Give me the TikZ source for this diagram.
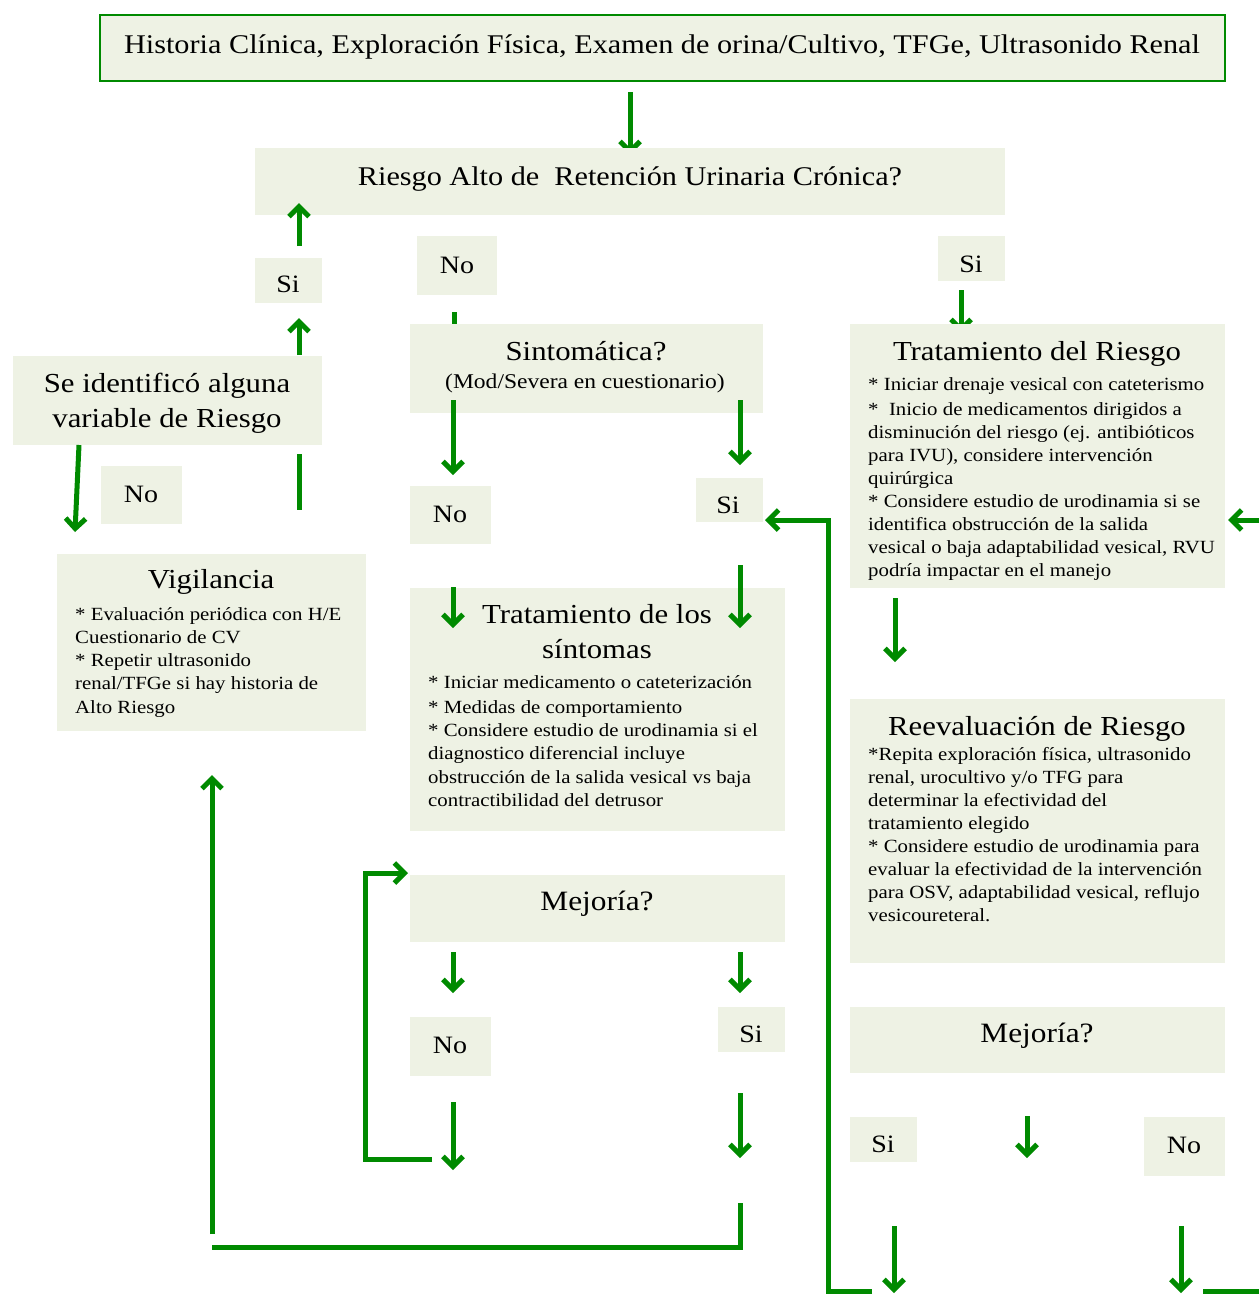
\documentclass[tikz,border=0pt]{standalone}
\usepackage{fontspec}
\setmainfont[FakeStretch=1.12]{Liberation Serif}
\usetikzlibrary{arrows.meta}
\definecolor{boxfill}{RGB}{238,242,228}
\definecolor{arrgreen}{RGB}{0,138,0}
\begin{document}
\begin{tikzpicture}[x=1pt,y=-1pt,
  box/.style={fill=boxfill, draw=none, inner sep=0pt, outer sep=0pt, anchor=north west},
  ttl/.style={anchor=base, inner sep=0pt, font=\fontsize{27.5}{32}\selectfont},
  lbl/.style={anchor=base, inner sep=0pt, font=\fontsize{25}{30}\selectfont},
  sub/.style={anchor=base, inner sep=0pt, font=\fontsize{21}{25}\selectfont},
  body/.style={anchor=base west, inner sep=0pt, font=\fontsize{18.6}{23}\selectfont},
  arr/.style={draw=arrgreen, line width=5pt, -{Straight Barb[length=10pt,width=20pt]}},
  ln/.style={draw=arrgreen, line width=5pt},
]
\useasboundingbox (0,0) rectangle (1259,1294);

% ---------- top ----------
\node[box, draw=arrgreen, line width=2pt, minimum width=1125pt, minimum height=66pt] (top) at (100,15) {};
\node[ttl, font=\fontsize{27}{32}\selectfont] (toptxt) at (662,53) {Historia Clínica, Exploración Física, Examen de orina/Cultivo, TFGe, Ultrasonido Renal};
\coordinate (a1s) at (630,92); \coordinate (a1e) at (630,155);
\draw[arr] (a1s) -- (a1e);

\node[box, minimum width=750pt, minimum height=67pt] (riesgo) at (255,148) {};
\node[ttl, font=\fontsize{27}{32}\selectfont] (riesgotxt) at (630,185) {Riesgo Alto de\ \ Retención Urinaria Crónica?};

\node[box, minimum width=67pt, minimum height=45pt] (siL) at (255,258) {};
\node[lbl] (siLtxt) at (288,292) {Si};
\node[box, minimum width=80pt, minimum height=59pt] (noM) at (417,236) {};
\node[lbl] (noMtxt) at (457,273) {No};
\node[box, minimum width=67pt, minimum height=45pt] (siR) at (938,236) {};
\node[lbl] (siRtxt) at (971,272) {Si};

\coordinate (a2s) at (299,246); \coordinate (a2e) at (299,203);
\draw[arr] (a2s) -- (a2e);
\coordinate (a3s) at (961,290); \coordinate (a3e) at (961,333);
\draw[arr] (a3s) -- (a3e);
\coordinate (a4s) at (299,355); \coordinate (a4e) at (299,318);
\draw[arr] (a4s) -- (a4e);

% ---------- left column ----------
\node[box, minimum width=309pt, minimum height=89pt] (ident) at (13,356) {};
\node[ttl] (identtxt1) at (167,392) {Se identificó alguna};
\node[ttl] (identtxt2) at (167,427) {variable de Riesgo};
\coordinate (a5s) at (79,445); \coordinate (a5e) at (75,532);
\draw[arr] (a5s) -- (a5e);
\node[box, minimum width=81pt, minimum height=58pt] (noL) at (101,466) {};
\node[lbl] (noLtxt) at (141,502) {No};
\coordinate (l1s) at (299,454); \coordinate (l1e) at (299,510);
\draw[ln] (l1s) -- (l1e);

\node[box, minimum width=309pt, minimum height=177pt] (vig) at (57,554) {};
\node[ttl] (vigtxt) at (211,588) {Vigilancia};
\foreach \t [count=\i] in {{* Evaluación periódica con H/E},{Cuestionario de CV},{* Repetir ultrasonido},{renal/TFGe si hay historia de},{Alto Riesgo}}
  \node[body] (vigb\i) at (75,{620+23.3*(\i-1)}) {\t};

% ---------- middle column ----------
\coordinate (l2s) at (454,312); \coordinate (l2e) at (454,355);
\draw[ln] (l2s) -- (l2e);
\node[box, minimum width=353pt, minimum height=89pt] (sint) at (410,324) {};
\node[ttl] (sinttxt) at (586,360) {Sintomática?};
\node[sub] (sintsub) at (585,388) {(Mod/Severa en cuestionario)};
\coordinate (a6s) at (453,400); \coordinate (a6e) at (453,475);
\draw[arr] (a6s) -- (a6e);
\coordinate (a7s) at (740,400); \coordinate (a7e) at (740,465);
\draw[arr] (a7s) -- (a7e);
\node[box, minimum width=81pt, minimum height=58pt] (noM2) at (410,486) {};
\node[lbl] (noM2txt) at (450,522) {No};
\node[box, minimum width=67pt, minimum height=44pt] (siM2) at (696,478) {};
\node[lbl] (siM2txt) at (728,513) {Si};
\coordinate (a8s) at (453,587); \coordinate (a8e) at (453,628);
\coordinate (a9s) at (740,565); \coordinate (a9e) at (740,628);

\node[box, minimum width=375pt, minimum height=243pt] (trs) at (410,588) {};
\draw[arr] (a8s) -- (a8e);
\draw[arr] (a9s) -- (a9e);
\node[ttl] (trstxt1) at (597,623) {Tratamiento de los};
\node[ttl] (trstxt2) at (597,658) {síntomas};
\foreach \t/\yy [count=\i] in {{* Iniciar medicamento o cateterización}/688,{* Medidas de comportamiento}/713,{* Considere estudio de urodinamia si el}/736.5,{diagnostico diferencial incluye}/759.8,{obstrucción de la salida vesical vs baja}/783,{contractibilidad del detrusor}/806}
  \node[body] (trsb\i) at (428,\yy) {\t};

\node[box, minimum width=375pt, minimum height=67pt] (mejM) at (410,875) {};
\node[ttl, font=\fontsize{28}{32}\selectfont] (mejMtxt) at (597,910) {Mejoría?};
\coordinate (lp1) at (432,1159); \coordinate (lp2) at (365,1159);
\coordinate (lp3) at (365,873); \coordinate (lp4) at (408,873);
\draw[arr] (lp1) -- (lp2) -- (lp3) -- (lp4);
\coordinate (a10s) at (453,952); \coordinate (a10e) at (453,993);
\draw[arr] (a10s) -- (a10e);
\coordinate (a11s) at (740,952); \coordinate (a11e) at (740,993);
\draw[arr] (a11s) -- (a11e);
\node[box, minimum width=81pt, minimum height=59pt] (noM3) at (410,1017) {};
\node[lbl] (noM3txt) at (450,1053) {No};
\node[box, minimum width=67pt, minimum height=45pt] (siM3) at (718,1007) {};
\node[lbl] (siM3txt) at (751,1042) {Si};
\coordinate (a12s) at (453,1102); \coordinate (a12e) at (453,1170);
\draw[arr] (a12s) -- (a12e);
\coordinate (a13s) at (740,1093); \coordinate (a13e) at (740,1158);
\draw[arr] (a13s) -- (a13e);
\coordinate (l3a) at (740,1203); \coordinate (l3b) at (740,1247); \coordinate (l3c) at (212,1247);
\draw[ln] (l3a) -- (l3b) -- (l3c);
\coordinate (a14s) at (212,1234); \coordinate (a14e) at (212,775);
\draw[arr] (a14s) -- (a14e);

% ---------- right column ----------
\node[box, minimum width=375pt, minimum height=264pt] (trr) at (850,324) {};
\node[ttl] (trrtxt) at (1037,360) {Tratamiento del Riesgo};
\foreach \t/\yy [count=\i] in {{* Iniciar drenaje vesical con cateterismo}/390,{*\ \ Inicio de medicamentos dirigidos a}/415,{disminución del riesgo (ej. antibióticos}/438,{para IVU), considere intervención}/461,{quirúrgica}/484,{* Considere estudio de urodinamia si se}/507,{identifica obstrucción de la salida}/530,{vesical o baja adaptabilidad vesical, RVU}/553,{podría impactar en el manejo}/576}
  \node[body] (trrb\i) at (868,\yy) {\t};
\coordinate (a15s) at (1262,520); \coordinate (a15e) at (1228,520);
\draw[arr] (a15s) -- (a15e);
\coordinate (a16s) at (895,598); \coordinate (a16e) at (895,662);
\draw[arr] (a16s) -- (a16e);

\node[box, minimum width=375pt, minimum height=264pt] (reev) at (850,699) {};
\node[ttl] (reevtxt) at (1037,735) {Reevaluación de Riesgo};
\foreach \t/\yy [count=\i] in {{*Repita exploración física, ultrasonido}/760,{renal, urocultivo y/o TFG para}/783,{determinar la efectividad del}/806,{tratamiento elegido}/829,{* Considere estudio de urodinamia para}/852,{evaluar la efectividad de la intervención}/875,{para OSV, adaptabilidad vesical, reflujo}/898,{vesicoureteral.}/921}
  \node[body] (reevb\i) at (868,\yy) {\t};

\node[box, minimum width=375pt, minimum height=66pt] (mejR) at (850,1007) {};
\node[ttl, font=\fontsize{28}{32}\selectfont] (mejRtxt) at (1037,1042) {Mejoría?};
\node[box, minimum width=67pt, minimum height=45pt] (siR2) at (850,1117) {};
\node[lbl] (siR2txt) at (883,1152) {Si};
\node[box, minimum width=81pt, minimum height=59pt] (noR2) at (1144,1117) {};
\node[lbl] (noR2txt) at (1184,1153) {No};
\coordinate (a17s) at (1027,1116); \coordinate (a17e) at (1027,1158);
\draw[arr] (a17s) -- (a17e);
\coordinate (a18s) at (894,1226); \coordinate (a18e) at (894,1293);
\draw[arr] (a18s) -- (a18e);
\coordinate (a19s) at (1181,1226); \coordinate (a19e) at (1181,1293);
\draw[arr] (a19s) -- (a19e);
\coordinate (r1) at (872,1291); \coordinate (r2) at (828,1291);
\coordinate (r3) at (828,520); \coordinate (r4) at (765,520);
\draw[arr] (r1) -- (r2) -- (r3) -- (r4);
\coordinate (r5) at (1203,1291); \coordinate (r6) at (1262,1291);
\draw[ln] (r5) -- (r6);
\end{tikzpicture}
\end{document}
